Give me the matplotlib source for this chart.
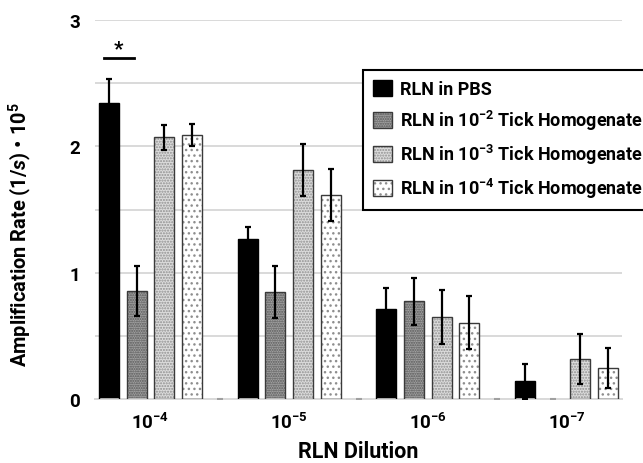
import numpy as np
import matplotlib
matplotlib.use("Agg")
import matplotlib.pyplot as plt
from matplotlib.patches import Patch

plt.rcParams['font.family'] = ['Roboto', 'DejaVu Sans']
plt.rcParams['font.weight'] = 'bold'
plt.rcParams['mathtext.fontset'] = 'custom'
plt.rcParams['mathtext.rm'] = 'Roboto:bold'
plt.rcParams['mathtext.it'] = 'Roboto:bold:italic'
plt.rcParams['mathtext.bf'] = 'Roboto:bold'
plt.rcParams['hatch.linewidth'] = 1.0

# dados
categorias = ['$10^{-4}$', '$10^{-5}$', '$10^{-6}$', '$10^{-7}$']
series = ['RLN in PBS',
          'RLN in $10^{-2}$ Tick Homogenate',
          'RLN in $10^{-3}$ Tick Homogenate',
          'RLN in $10^{-4}$ Tick Homogenate']
pbs = [2.34, 1.27, 0.715, 0.14]
pbs_err = [0.19, 0.09, 0.165, 0.138]
tick2 = [0.855, 0.845, 0.775, 0.0]
tick2_err = [0.20, 0.205, 0.186, 0.0]
tick3 = [2.07, 1.81, 0.65, 0.315]
tick3_err = [0.097, 0.205, 0.213, 0.20]
tick4 = [2.09, 1.615, 0.605, 0.245]
tick4_err = [0.087, 0.205, 0.211, 0.16]
espaco = [0.0, 0.0, 0.0]   # serie vazia entre os grupos

valores = [pbs, tick2, tick3, tick4]
erros = [pbs_err, tick2_err, tick3_err, tick4_err]

# estilos de cada serie
faces = ['black', '#a3a3a3', '#dcdcdc', 'white']
hatch_cor = ['black', '#555555', '#909090', '#8e8e8e']
hatches = [None, '.......', '......', '...']
bordas = ['black', '#3a3a3a', '#3a3a3a', '#3a3a3a']

fig = plt.figure(figsize=(6.43, 4.64), dpi=100)
ax = fig.add_axes([95/643, 1-400/464, (622-95)/643, (400-21)/464])

ng = len(categorias)
passo = 5
larg = 0.72
handles = []
for i in range(4):
    x = np.arange(ng)*passo + i
    v = np.array(valores[i])
    e = np.array(erros[i])
    ok = v > 0
    ax.bar(x[ok], v[ok], larg, color=faces[i], hatch=hatches[i],
           edgecolor=hatch_cor[i], linewidth=0, zorder=2)
    ax.bar(x[ok], v[ok], larg, fill=False, edgecolor=bordas[i],
           linewidth=1.0, zorder=3)
    ax.errorbar(x[ok], v[ok], yerr=e[ok], fmt='none', ecolor='black',
                elinewidth=1.6, capsize=2.5, capthick=1.6, zorder=4)
    # barras com valor zero aparecem como um tracinho
    ax.plot(x[~ok], v[~ok], '_', color='#a0a0a0', ms=5, mew=1.5, zorder=3)
    h1 = Patch(facecolor=faces[i], hatch=hatches[i], edgecolor=hatch_cor[i], linewidth=0)
    h2 = Patch(fill=False, edgecolor=bordas[i], linewidth=1.0)
    handles.append((h1, h2))

xs = np.arange(len(espaco))*passo + 4
ax.plot(xs, espaco, '_', color='#a0a0a0', ms=5, mew=1.5, zorder=3)

# marca de significancia
ax.plot([-0.18, 0.9], [2.70, 2.70], color='black', lw=2)
ax.text(0.36, 2.70, '*', ha='center', va='bottom', fontsize=15, fontweight='bold')

ax.set_xlim(-0.5, 18.5)
ax.set_ylim(0, 3)
ax.set_xticks(np.arange(ng)*passo + 1.5)
ax.set_xticklabels(categorias, fontsize=13.5)
ax.set_yticks([0, 1, 2, 3])
ax.set_yticks([0.5, 1.5, 2.5], minor=True)
ax.tick_params(axis='y', which='major', labelsize=13.5, length=0, pad=11)
ax.tick_params(axis='y', which='minor', length=0)
ax.tick_params(axis='x', length=0, pad=9)
ax.grid(axis='y', which='both', color='#d9d9d9', lw=1.4, zorder=0)
ax.set_axisbelow(True)
for s in ['left', 'right', 'top']:
    ax.spines[s].set_visible(False)
ax.spines['bottom'].set_color('#d9d9d9')
ax.spines['bottom'].set_linewidth(1.4)

ax.set_xlabel('RLN Dilution', fontsize=15.5, fontweight='bold', labelpad=6)
ax.set_ylabel('Amplification Rate (1/$s$) • 10$^5$', fontsize=14.4, fontweight='bold')
ax.yaxis.set_label_coords(-0.115, 0.435)

leg = ax.legend(handles, series, loc='upper left',
                bbox_to_anchor=(363/643, 1-70.7/464), bbox_transform=fig.transFigure,
                borderaxespad=0, fontsize=13, handlelength=1.05, handleheight=1.05,
                handletextpad=0.45, labelspacing=0.55, borderpad=0.55,
                fancybox=False, framealpha=1, edgecolor='black')
leg.get_frame().set_linewidth(1.5)

fig.savefig('out.png', dpi=100)
